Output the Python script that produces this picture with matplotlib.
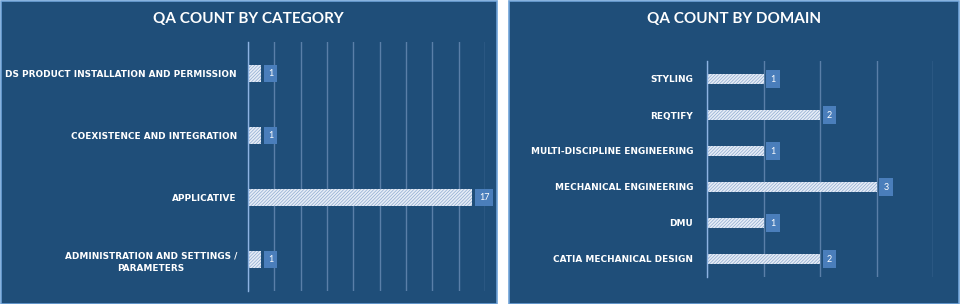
import matplotlib
matplotlib.use('Agg')
import matplotlib.pyplot as plt
from matplotlib.patches import Rectangle

# data (top to bottom as shown)
cat_labels = ['DS PRODUCT INSTALLATION AND PERMISSION', 'COEXISTENCE AND INTEGRATION',
              'APPLICATIVE', 'ADMINISTRATION AND SETTINGS /\nPARAMETERS']
cat_counts = [1, 1, 17, 1]
dom_labels = ['STYLING', 'REQTIFY', 'MULTI-DISCIPLINE ENGINEERING',
              'MECHANICAL ENGINEERING', 'DMU', 'CATIA MECHANICAL DESIGN']
dom_counts = [1, 2, 1, 3, 1, 2]

BG = '#1f4e79'
BORDER = '#6fa3d8'
GRID = '#5a7fa8'
BAR = '#e6edf6'
HATCH = '#8eaad0'
LBL = '#4a7ebb'

plt.rcParams['hatch.linewidth'] = 0.5
plt.rcParams['font.family'] = ['Lato', 'DejaVu Sans']

fig = plt.figure(figsize=(9.6, 3.04), dpi=100)
W, H = 960, 304


def panel(x0, x1):
    fig.patches.append(Rectangle((x0 / W, 0.5 / H), (x1 - x0) / W, (H - 1.5) / H,
                                 transform=fig.transFigure, fc=BG, ec=BORDER, lw=1.2, zorder=-5))


panel(0.5, 497)
panel(509, 959)


def hbar(rect, labels, counts, xmax, step, title, tx, pad):
    ax = fig.add_axes(rect)
    ax.set_facecolor('none')
    y = list(range(len(labels)))
    ax.barh(y, counts, height=0.27, color=BAR, edgecolor=HATCH, lw=0, hatch='/' * 10, zorder=2)
    ax.set_ylim(len(labels) - 0.5, -0.5)
    ax.set_xlim(0, xmax)
    ax.set_xticks(range(0, xmax + 1, step))
    ax.grid(axis='x', color=GRID, lw=1.0)
    ax.set_axisbelow(True)
    for s in ['top', 'right', 'bottom']:
        ax.spines[s].set_visible(False)
    ax.spines['left'].set_color('#8db3e2')
    ax.spines['left'].set_linewidth(1.0)
    ax.tick_params(axis='x', length=0, labelbottom=False)
    ax.tick_params(axis='y', length=0, pad=pad)
    ax.set_yticks(y)
    ax.set_yticklabels(labels, color='white', fontsize=6.4, fontweight='bold',
                       family='DejaVu Sans', linespacing=1.5)
    for t in ax.get_yticklabels():
        t.set_multialignment('center')
    for yi, v in zip(y, counts):
        ax.annotate(str(v), (v, yi), xytext=(7, 0), textcoords='offset pixels',
                    ha='left', va='center', color='white', fontsize=6.5,
                    bbox=dict(boxstyle='square,pad=0.45', fc=LBL, ec='none'))
    fig.text(tx / W, 1 - 19 / H, title, ha='center', va='center', color='white',
             fontsize=11, fontweight='bold')
    return ax


hbar([248 / W, 1 - 291 / H, 237 / W, 249 / H], cat_labels, cat_counts, 18, 2,
     'QA COUNT BY CATEGORY', 248, 8)
hbar([707 / W, 1 - 277 / H, 226 / W, 216 / H], dom_labels, dom_counts, 4, 1,
     'QA COUNT BY DOMAIN', 734, 10)

fig.savefig('out.png', dpi=100, facecolor='white')
